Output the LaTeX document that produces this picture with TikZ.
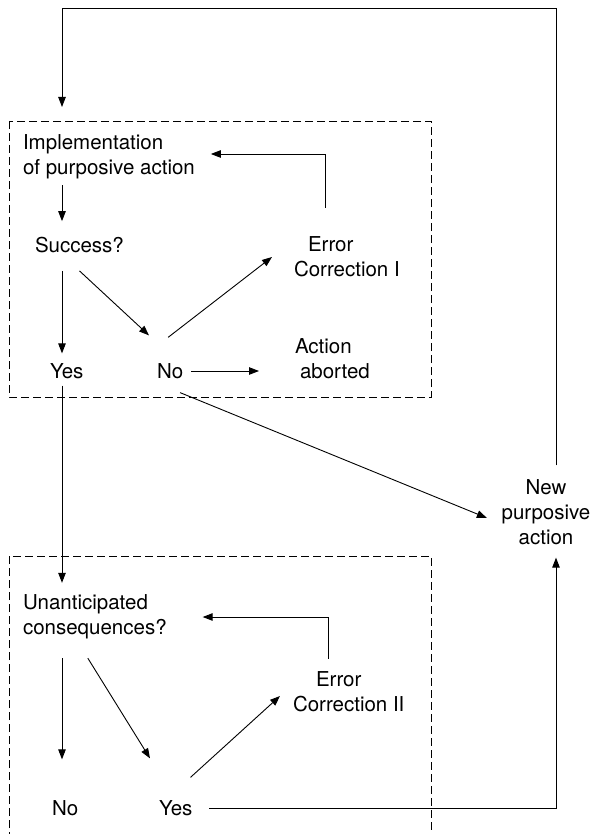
\documentclass[tikz,border=0pt]{standalone}
\usepackage{fontspec}
\setmainfont{TeX Gyre Heros}
\usetikzlibrary{arrows.meta}
\tikzset{
    labelnode/.style = {
        align=left,
        inner sep=0pt,
        outer sep=0pt,
        font=\fontsize{20.5}{25}\selectfont
    },
    centernode/.style = {
        labelnode,
        align=center
    },
    arrowline/.style = {
        line width=0.9pt,
        -{Triangle[length=10pt,width=7.5pt]}
    },
    dashbox/.style = {
        line width=0.8pt,
        dash pattern=on 8pt off 4pt
    }
}

\begin{document}
\begin{tikzpicture}[x=1pt,y=-1pt]
            \useasboundingbox (0,0) rectangle (597,834);
            % frames
            \draw [dashbox] (9,121) rectangle (431,397);
            \draw [dashbox] (9,840) -- (9,556) -- (431,556) -- (431,840);
            % first stage
            \node [labelnode, anchor=west] (impl) at (23,157) {Implementation\\of purposive action};
            \node [labelnode, anchor=west] (succ) at (35,245) {Success?};
            \node [labelnode, anchor=west] (err1) at (294,257) {\hspace*{14pt}Error\\Correction I};
            \node [labelnode, anchor=west] (yes1) at (50,371) {Yes};
            \node [labelnode, anchor=west] (no1) at (157,371) {No};
            \node [labelnode, anchor=west] (act) at (295,359) {Action\\\hspace*{5pt}aborted};
            \node [centernode] (newact) at (546,512) {New\\purposive\\action};
            % second stage
            \node [labelnode, anchor=west] (unant) at (23,617) {Unanticipated\\consequences?};
            \node [labelnode, anchor=west] (err2) at (293,692) {\hspace*{23pt}Error\\Correction II};
            \node [labelnode, anchor=west] (no2) at (52,808) {No};
            \node [labelnode, anchor=west] (yes2) at (159,808) {Yes};
            \coordinate (rail) at (62,8);
            \coordinate (entryI) at (62,107);
            % connectors
            \draw [arrowline, shorten <=14pt] ([xshift=10pt]newact.north) |- (rail) -- (entryI);
            \draw [arrowline, shorten <=6pt, shorten >=16pt] (impl.south -| entryI) -- (succ.north -| entryI);
            \draw [arrowline, shorten <=29pt, shorten >=16pt] ([xshift=-21pt]err1.north) |- ([yshift=3pt]impl.east);
            \draw [arrowline, shorten <=18pt, shorten >=10pt] (succ.south -| entryI) -- (yes1.north -| entryI);
            \draw [arrowline] ([yshift=-18pt]succ.south) -- ([xshift=-8pt,yshift=28pt]no1.north west);
            \draw [arrowline] ([xshift=-2pt,yshift=26pt]no1.north) -- ([xshift=-22pt]err1.west);
            \draw [arrowline, shorten <=8pt, shorten >=36pt] (no1.east) -- (no1.east -| act.west);
            \draw [arrowline, shorten >=16pt] ([xshift=10pt,yshift=-14pt]no1.south) -- ([yshift=-12pt]newact.west);
            \draw [arrowline, shorten <=7pt, shorten >=12pt] (yes1.south -| entryI) -- (unant.north -| entryI);
            \draw [arrowline, shorten <=13pt, shorten >=36pt] ([xshift=-20pt]err2.north) |- (unant.east);
            \draw [arrowline, shorten <=19pt, shorten >=41pt] (unant.south -| entryI) -- (no2.north -| entryI);
            \draw [arrowline] ([xshift=-7pt,yshift=-19pt]unant.south) -- ([xshift=-9pt,yshift=42pt]yes2.north west);
            \draw [arrowline] ([xshift=-2pt,yshift=23pt]yes2.north east) -- ([xshift=-13pt,yshift=-4pt]err2.west);
            \draw [arrowline, shorten <=17pt, shorten >=13pt] (yes2.east) -| ([xshift=10pt]newact.south);
\end{tikzpicture}
\end{document}
